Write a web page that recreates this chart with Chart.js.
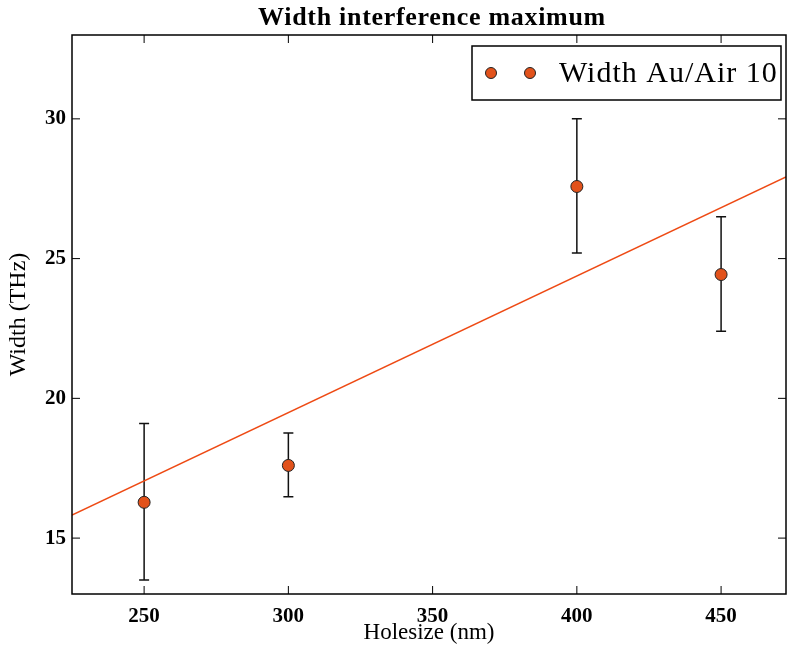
<!DOCTYPE html>
<html>
<head>
<meta charset="utf-8">
<script src="https://cdn.jsdelivr.net/npm/chart.js@4"></script>
<style>
  html, body { margin: 0; padding: 0; background: #fff; }
  #wrap { width: 787px; height: 651px; }
</style>
</head>
<body>
<div id="wrap"><canvas id="chart"></canvas></div>
<script>
// measured points
const holesize = [250, 300, 400, 450];
const width = [16.28, 17.6, 27.58, 24.43];
const errLow = [13.5, 16.48, 25.2, 22.4];
const errHigh = [19.1, 18.76, 30.0, 26.5];

// linear fit, endpoints at the x-range limits
const fitX = [225, 472.5];
const fitY = [15.82, 27.92];

const xTicks = [250, 300, 350, 400, 450];
const yTicks = [15, 20, 25, 30];

const FONT = '"Liberation Serif", "DejaVu Serif", serif';
const ORANGE = '#e2521b';

const frame = {
  id: 'frame',
  beforeDatasetsDraw(chart) {
    const { ctx, scales } = chart;
    ctx.save();
    // error bars
    ctx.strokeStyle = '#111';
    ctx.lineWidth = 1.5;
    holesize.forEach((x, i) => {
      const px = scales.x.getPixelForValue(x);
      const lo = scales.y.getPixelForValue(errLow[i]);
      const hi = scales.y.getPixelForValue(errHigh[i]);
      ctx.beginPath();
      ctx.moveTo(px, lo); ctx.lineTo(px, hi);
      ctx.moveTo(px - 5, lo); ctx.lineTo(px + 5, lo);
      ctx.moveTo(px - 5, hi); ctx.lineTo(px + 5, hi);
      ctx.stroke();
    });
    ctx.restore();
  },
  afterDraw(chart) {
    const { ctx, chartArea: a, scales } = chart;
    ctx.save();
    // box
    ctx.strokeStyle = '#000';
    ctx.lineWidth = 1.5;
    ctx.strokeRect(a.left, a.top, a.right - a.left, a.bottom - a.top);
    // inward ticks
    ctx.lineWidth = 1;
    xTicks.forEach(v => {
      const p = scales.x.getPixelForValue(v);
      ctx.beginPath();
      ctx.moveTo(p, a.bottom); ctx.lineTo(p, a.bottom - 8);
      ctx.moveTo(p, a.top); ctx.lineTo(p, a.top + 8);
      ctx.stroke();
    });
    yTicks.forEach(v => {
      const p = scales.y.getPixelForValue(v);
      ctx.beginPath();
      ctx.moveTo(a.left, p); ctx.lineTo(a.left + 8, p);
      ctx.moveTo(a.right, p); ctx.lineTo(a.right - 8, p);
      ctx.stroke();
    });
    // title
    ctx.fillStyle = '#000';
    ctx.font = 'bold 26px ' + FONT;
    ctx.letterSpacing = '0.7px';
    ctx.textAlign = 'center';
    ctx.textBaseline = 'alphabetic';
    ctx.fillText('Width interference maximum', 432, 25);
    // legend
    ctx.lineWidth = 1.5;
    ctx.fillStyle = '#fff';
    ctx.fillRect(472, 46, 309, 54);
    ctx.strokeRect(472, 46, 309, 54);
    [491, 530].forEach(cx => {
      ctx.beginPath();
      ctx.arc(cx, 73, 5.5, 0, Math.PI * 2);
      ctx.fillStyle = ORANGE;
      ctx.fill();
      ctx.lineWidth = 1;
      ctx.strokeStyle = '#222';
      ctx.stroke();
    });
    ctx.fillStyle = '#000';
    ctx.font = '30px ' + FONT;
    ctx.letterSpacing = '1px';
    ctx.textAlign = 'left';
    ctx.textBaseline = 'middle';
    ctx.fillText('Width Au/Air 10', 559, 74);
    ctx.restore();
  }
};

new Chart(document.getElementById('chart'), {
  type: 'scatter',
  data: {
    datasets: [
      {
        type: 'line',
        data: fitX.map((x, i) => ({ x, y: fitY[i] })),
        borderColor: '#ee4a14',
        borderWidth: 1.5,
        pointRadius: 0,
        fill: false,
        order: 2
      },
      {
        data: holesize.map((x, i) => ({ x, y: width[i] })),
        backgroundColor: ORANGE,
        borderColor: '#222',
        borderWidth: 1,
        pointRadius: 6,
        order: 1
      }
    ]
  },
  options: {
    responsive: true,
    maintainAspectRatio: false,
    animation: false,
    // no auto padding for point radius, plot runs to the right edge
    layout: { autoPadding: false, padding: { top: 35, right: 1, left: 0, bottom: 0 } },
    plugins: { legend: { display: false }, tooltip: { enabled: false } },
    scales: {
      x: {
        type: 'linear',
        min: 225, max: 472.5,
        afterBuildTicks: s => { s.ticks = xTicks.map(v => ({ value: v })); },
        afterFit: s => { s.height = 57; s.paddingLeft = 0; s.paddingRight = 0; },
        grid: { display: false, drawTicks: false },
        border: { display: false },
        ticks: { color: '#000', padding: 10, font: { family: FONT, size: 21, weight: 'bold' } },
        title: { display: true, text: 'Holesize (nm)', color: '#000', padding: { top: 0 }, font: { family: FONT, size: 23 } }
      },
      y: {
        min: 13, max: 33,
        afterBuildTicks: s => { s.ticks = yTicks.map(v => ({ value: v })); },
        afterFit: s => { s.width = 72; s.paddingTop = 0; s.paddingBottom = 0; },
        grid: { display: false, drawTicks: false },
        border: { display: false },
        ticks: { color: '#000', padding: 6, font: { family: FONT, size: 21, weight: 'bold' } },
        title: { display: true, text: 'Width (THz)', color: '#000', padding: { bottom: 2 }, font: { family: FONT, size: 24 } }
      }
    }
  },
  plugins: [frame]
});
</script>
</body>
</html>
